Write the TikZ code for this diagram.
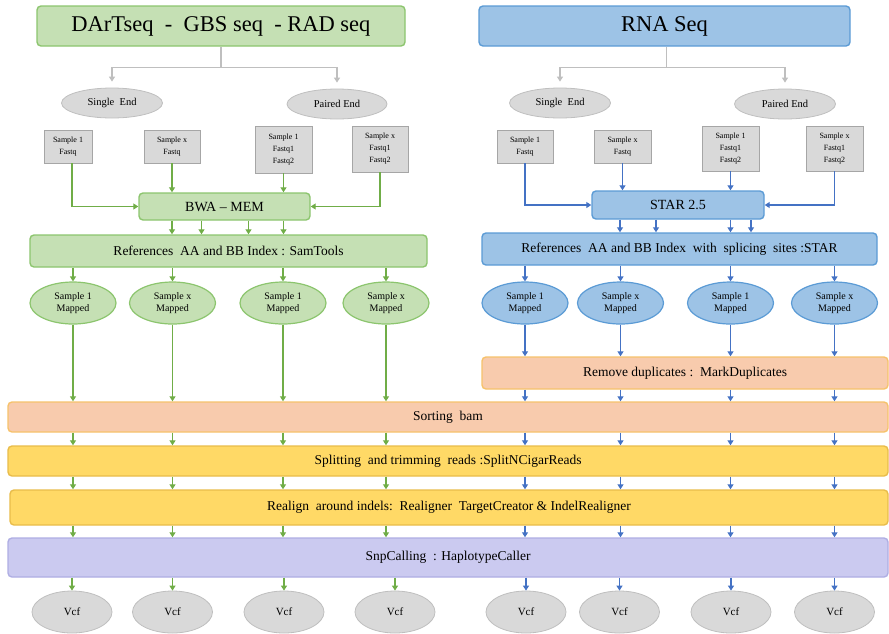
\documentclass[tikz,border=0pt]{standalone}
\usepackage{fontspec}
\setmainfont{Liberation Serif}
\usetikzlibrary{arrows.meta,shapes.geometric}
\definecolor{gfill}{HTML}{C5E0B4}
\definecolor{gline}{HTML}{8CC56E}
\definecolor{garrow}{HTML}{70AD47}
\definecolor{bfill}{HTML}{9DC3E6}
\definecolor{bline}{HTML}{5B9BD5}
\definecolor{barrow}{HTML}{4472C4}
\definecolor{ofill}{HTML}{F8CBAD}
\definecolor{oline}{HTML}{F6C26B}
\definecolor{yfill}{HTML}{FFD966}
\definecolor{yline}{HTML}{E8BC4A}
\definecolor{pfill}{HTML}{CBCAF0}
\definecolor{pline}{HTML}{AFAEE3}
\definecolor{grfill}{HTML}{D9D9D9}
\definecolor{grline}{HTML}{BFBFBF}
\definecolor{sline}{HTML}{A6A6A6}
\begin{document}
\begin{tikzpicture}[x=1pt,y=-1pt,
  every node/.style={inner sep=0pt, align=center},
  rbox/.style={draw, rounded corners=4pt, line width=1.4pt},
  gbox/.style={rbox, fill=gfill, draw=gline},
  bbox/.style={rbox, fill=bfill, draw=bline},
  obox/.style={rbox, fill=ofill, draw=oline},
  ybox/.style={rbox, fill=yfill, draw=yline},
  pbox/.style={rbox, fill=pfill, draw=pline},
  titletxt/.style={font=\fontsize{22.5}{26}\selectfont},
  bartxt/.style={font=\fontsize{13.5}{16}\selectfont},
  endell/.style={ellipse, fill=grfill, draw=grline, line width=0.8pt, minimum width=101pt, minimum height=30pt, font=\fontsize{10.5}{12}\selectfont},
  sampbox/.style={rectangle, fill=grfill, draw=sline, line width=0.8pt, font=\fontsize{8}{12}\selectfont},
  gmap/.style={ellipse, fill=gfill, draw=gline, line width=1.2pt, minimum width=86pt, minimum height=42pt, font=\fontsize{10}{12.5}\selectfont},
  bmap/.style={ellipse, fill=bfill, draw=bline, line width=1.2pt, minimum width=86pt, minimum height=42pt, font=\fontsize{10}{12.5}\selectfont},
  vcfell/.style={ellipse, fill=grfill, draw=grline, line width=0.8pt, minimum width=80pt, minimum height=42pt, font=\fontsize{11}{13}\selectfont},
  garr/.style={draw=garrow, line width=1.2pt, -{Triangle[width=6pt,length=5pt]}},
  barr/.style={draw=barrow, line width=1.2pt, -{Triangle[width=6pt,length=5pt]}},
  grarr/.style={draw=grline, line width=1.2pt, -{Triangle[width=6pt,length=5pt]}},
  grline/.style={draw=grline, line width=1.2pt}
]
\useasboundingbox (0,0) rectangle (889,633);

% titles
\node[gbox, titletxt, minimum width=368pt, minimum height=40pt] (t1) at (221,26) {DArTseq\ \ -\ \ GBS seq\ \ - RAD seq};
\node[bbox, titletxt, minimum width=371pt, minimum height=40pt] (t2) at (664.5,26) {RNA Seq};

% single / paired
\node[endell] (se1) at (112,103) {Single\ \ End};
\node[endell, minimum width=100pt] (pe1) at (337,104) {Paired End};
\node[endell] (se2) at (560,103) {Single\ \ End};
\node[endell] (pe2) at (785,104) {Paired End};

\path (t1.south) ++(0,21) coordinate (jL);
\path (t2.south) ++(2,21) coordinate (jR);
\draw[grline] (t1.south) -- (jL);
\draw[grarr, shorten >=6pt] (jL) -| (se1.north);
\draw[grarr, shorten >=6pt] (jL) -| (pe1.north);
\draw[grline] (t2.south -| jR) -- (jR);
\draw[grarr, shorten >=6pt] (jR) -| (se2.north);
\draw[grarr, shorten >=6pt] (jR) -| (pe2.north);

% sample boxes
\node[sampbox, minimum width=48pt, minimum height=33pt] (s1) at (68,146.5) {Sample 1\\Fastq};
\node[sampbox, minimum width=56pt, minimum height=33pt] (s2) at (172,146.5) {Sample x\\Fastq};
\node[sampbox, minimum width=57pt, minimum height=47pt] (s3) at (283.5,149.5) {Sample 1\\Fastq1\\Fastq2};
\node[sampbox, minimum width=56pt, minimum height=46pt] (s4) at (380,149) {Sample x\\Fastq1\\Fastq2};
\node[sampbox, minimum width=56pt, minimum height=33pt] (r1) at (525,146.5) {Sample 1\\Fastq};
\node[sampbox, minimum width=57pt, minimum height=33pt] (r2) at (622.5,146.5) {Sample x\\Fastq};
\node[sampbox, minimum width=57pt, minimum height=45pt] (r3) at (730.5,148.5) {Sample 1\\Fastq1\\Fastq2};
\node[sampbox, minimum width=57pt, minimum height=45pt] (r4) at (834.5,148.5) {Sample x\\Fastq1\\Fastq2};

% aligners
\node[gbox, font=\fontsize{14}{16}\selectfont, minimum width=171pt, minimum height=27pt] (bwa) at (224.5,206.5) {BWA – MEM};
\node[bbox, font=\fontsize{14}{16}\selectfont, minimum width=172pt, minimum height=28pt] (star) at (678,205) {STAR 2.5};

\draw[garr] ([xshift=4pt]s1.south) |- (bwa.west);
\draw[garr] (s2.south) -- (s2.south |- bwa.north);
\draw[garr] (s3.south) -- (s3.south |- bwa.north);
\draw[garr] (s4.south) |- (bwa.east);
\draw[barr] (r1.south) |- (star.west);
\draw[barr] (r2.south) -- (r2.south |- star.north);
\draw[barr] (r3.south) -- (r3.south |- star.north);
\draw[barr] (r4.south) |- (star.east);

% references
\node[gbox, bartxt, minimum width=397pt, minimum height=32pt] (refL) at (228.5,251) {References\ \ AA and BB Index : SamTools};
\node[bbox, bartxt, minimum width=395pt, minimum height=32pt] (refR) at (679.5,249) {References\ \ AA and BB Index\ \ with\ \ splicing\ \ sites :STAR};

\draw[garr] (bwa.south -| s2.south) -- (refL.north -| s2.south);
\draw[garr] ([xshift=-23pt]bwa.south) -- ([xshift=-23pt]bwa.south |- refL.north);
\draw[garr] ([xshift=24pt]bwa.south) -- ([xshift=24pt]bwa.south |- refL.north);
\draw[garr] (bwa.south -| s3.south) -- (refL.north -| s3.south);
\draw[barr] ([xshift=-58pt]star.south) -- ([xshift=-58pt]star.south |- refR.north);
\draw[barr] ([xshift=-22pt]star.south) -- ([xshift=-22pt]star.south |- refR.north);
\draw[barr] (star.south -| r3.south) -- (refR.north -| r3.south);
\draw[barr] ([xshift=73pt]star.south) -- ([xshift=73pt]star.south |- refR.north);

% mapped
\node[gmap] (mL1) at (73,303) {Sample 1\\Mapped};
\node[gmap] (mL2) at (172.5,303) {Sample x\\Mapped};
\node[gmap] (mL3) at (283,303) {Sample 1\\Mapped};
\node[gmap] (mL4) at (386,303) {Sample x\\Mapped};
\node[bmap] (mR1) at (525,303) {Sample 1\\Mapped};
\node[bmap] (mR2) at (620.5,303) {Sample x\\Mapped};
\node[bmap] (mR3) at (730.5,303) {Sample 1\\Mapped};
\node[bmap] (mR4) at (834.5,303) {Sample x\\Mapped};

% bars
\node[obox, bartxt, minimum width=406pt, minimum height=32pt] (rem) at (685,373) {Remove duplicates :\ \ MarkDuplicates};
\node[obox, bartxt, minimum width=880pt, minimum height=30pt] (sort) at (448,417) {Sorting\ \ bam};
\node[ybox, bartxt, minimum width=880pt, minimum height=30pt] (split) at (448,461) {Splitting\ \ and trimming\ \ reads :SplitNCigarReads};
\node[ybox, bartxt, minimum width=878pt, minimum height=35pt] (realign) at (449,507.5) {Realign\ \ around indels:\ \ Realigner\ \ TargetCreator \& IndelRealigner};
\node[pbox, bartxt, minimum width=880pt, minimum height=39pt] (snp) at (448,557.5) {SnpCalling\ \ : HaplotypeCaller};

% vcf
\node[vcfell] (vL1) at (72,612) {Vcf};
\node[vcfell] (vL2) at (172.5,612) {Vcf};
\node[vcfell] (vL3) at (284,612) {Vcf};
\node[vcfell] (vL4) at (395,612) {Vcf};
\node[vcfell] (vR1) at (526,612) {Vcf};
\node[vcfell] (vR2) at (619.5,612) {Vcf};
\node[vcfell] (vR3) at (731,612) {Vcf};
\node[vcfell] (vR4) at (834.5,612) {Vcf};

\foreach \i in {1,2,3,4} {
  \draw[garr] (refL.south -| mL\i) -- (mL\i.north);
  \draw[garr] (mL\i.south) -- (sort.north -| mL\i);
  \draw[garr] (sort.south -| mL\i) -- (split.north -| mL\i);
  \draw[garr] (split.south -| mL\i) -- (realign.north -| mL\i);
  \draw[garr] (realign.south -| mL\i) -- (snp.north -| mL\i);
  \draw[garr] (snp.south -| vL\i) -- (vL\i.north);
  \draw[barr] (refR.south -| mR\i) -- (mR\i.north);
  \draw[barr] (mR\i.south) -- (rem.north -| mR\i);
  \draw[barr] (rem.south -| mR\i) -- (sort.north -| mR\i);
  \draw[barr] (sort.south -| mR\i) -- (split.north -| mR\i);
  \draw[barr] (split.south -| mR\i) -- (realign.north -| mR\i);
  \draw[barr] (realign.south -| mR\i) -- (snp.north -| mR\i);
  \draw[barr] (snp.south -| vR\i) -- (vR\i.north);
}
\end{tikzpicture}
\end{document}
